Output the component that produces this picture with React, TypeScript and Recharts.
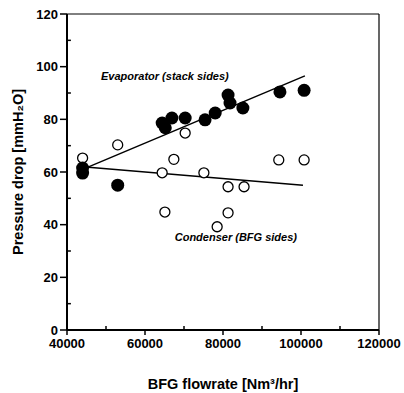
import { ReferenceDot, ReferenceLine, Scatter, ScatterChart, XAxis, YAxis } from 'recharts'

const X_TICKS = [40000, 60000, 80000, 100000, 120000]
const X_MINOR = [50000, 70000, 90000, 110000]
const Y_TICKS = [0, 20, 40, 60, 80, 100, 120]
const Y_MINOR = [10, 30, 50, 70, 90, 110]

// evaporator (stack sides) - filled
const evapFlow = [44000, 44000, 53000, 64400, 65200, 66900, 70300, 75400, 78000, 81300, 81800, 85100, 94600, 100800]
const evapDrop = [61.5, 59.6, 55, 78.6, 76.8, 80.5, 80.5, 79.8, 82.4, 89.2, 86.2, 84.3, 90.4, 91]

// condenser (BFG sides) - open
const condFlow = [44000, 53000, 64400, 65100, 67400, 70300, 75100, 78500, 81300, 81300, 85400, 94300, 100800]
const condDrop = [65.3, 70.3, 59.7, 44.8, 64.8, 74.8, 59.7, 39.2, 54.4, 44.5, 54.4, 64.6, 64.6]

// fitted lines: [start, end]
const evapFitX = [44000, 101000]
const evapFitY = [61, 96.5]
const condFitX = [44000, 100500]
const condFitY = [62, 55]

const evapData = evapFlow.map((x, i) => ({ x, y: evapDrop[i] }))
const condData = condFlow.map((x, i) => ({ x, y: condDrop[i] }))

const FONT = 'Liberation Sans, Arial, sans-serif'
const tickStyle = { fontSize: 13, fontWeight: 700, fill: '#000', fontFamily: FONT }
const titleStyle = { fontSize: 14.5, fontWeight: 700, fill: '#000', fontFamily: FONT }

function Filled(p: any) {
  return <circle cx={p.cx} cy={p.cy} r={6.5} fill="#000" />
}

function Open(p: any) {
  return <circle cx={p.cx} cy={p.cy} r={5} fill="#fff" stroke="#000" strokeWidth={1.3} />
}

function note(text: string) {
  return (props: any) => {
    const { viewBox } = props
    return (
      <text
        x={viewBox.x}
        y={viewBox.y}
        textAnchor="middle"
        dominantBaseline="central"
        fontSize={11}
        fontWeight={700}
        fontStyle="italic"
        fontFamily={FONT}
        fill="#000"
      >
        {text}
      </text>
    )
  }
}

export default function App() {
  return (
    <div style={{ position: 'absolute', left: 0, top: 0, background: '#fff' }}>
      <ScatterChart width={404} height={393} margin={{ top: 14, right: 25, bottom: 0, left: 27 }}>
        <XAxis
          type="number"
          dataKey="x"
          domain={[40000, 120000]}
          ticks={X_TICKS}
          tick={tickStyle}
          tickSize={5}
          tickMargin={4}
          axisLine={{ stroke: '#000', strokeWidth: 2 }}
          tickLine={{ stroke: '#000', strokeWidth: 1.5 }}
          height={63}
          label={{
            value: 'BFG flowrate [Nm³/hr]',
            position: 'insideBottom',
            offset: 4,
            style: titleStyle,
          }}
        />
        <YAxis
          type="number"
          dataKey="y"
          domain={[0, 120]}
          ticks={Y_TICKS}
          tick={tickStyle}
          tickSize={7}
          tickMargin={2}
          axisLine={{ stroke: '#000', strokeWidth: 2 }}
          tickLine={{ stroke: '#000', strokeWidth: 1.5 }}
          width={40}
          label={{
            value: 'Pressure drop [mmH₂O]',
            angle: -90,
            position: 'insideLeft',
            offset: -9,
            style: { ...titleStyle, textAnchor: 'middle' },
          }}
        />
        <ReferenceLine y={120} stroke="#000" strokeWidth={1} />
        <ReferenceLine x={120000} stroke="#000" strokeWidth={1.2} />
        {X_MINOR.map((v) => (
          <ReferenceLine key={'xm' + v} segment={[{ x: v, y: 0 }, { x: v, y: 1.5 }]} stroke="#000" strokeWidth={1.5} />
        ))}
        {Y_MINOR.map((v) => (
          <ReferenceLine key={'ym' + v} segment={[{ x: 40000, y: v }, { x: 41000, y: v }]} stroke="#000" strokeWidth={1.5} />
        ))}
        <ReferenceLine
          segment={[{ x: evapFitX[0], y: evapFitY[0] }, { x: evapFitX[1], y: evapFitY[1] }]}
          stroke="#000"
          strokeWidth={1.5}
        />
        <ReferenceLine
          segment={[{ x: condFitX[0], y: condFitY[0] }, { x: condFitX[1], y: condFitY[1] }]}
          stroke="#000"
          strokeWidth={1.5}
        />
        <Scatter data={condData} shape={Open} isAnimationActive={false} />
        <Scatter data={evapData} shape={Filled} isAnimationActive={false} />
        <ReferenceDot x={65100} y={96.5} r={0} fill="none" stroke="none" label={note('Evaporator (stack sides)')} />
        <ReferenceDot x={83300} y={35.3} r={0} fill="none" stroke="none" label={note('Condenser (BFG sides)')} />
      </ScatterChart>
    </div>
  )
}
